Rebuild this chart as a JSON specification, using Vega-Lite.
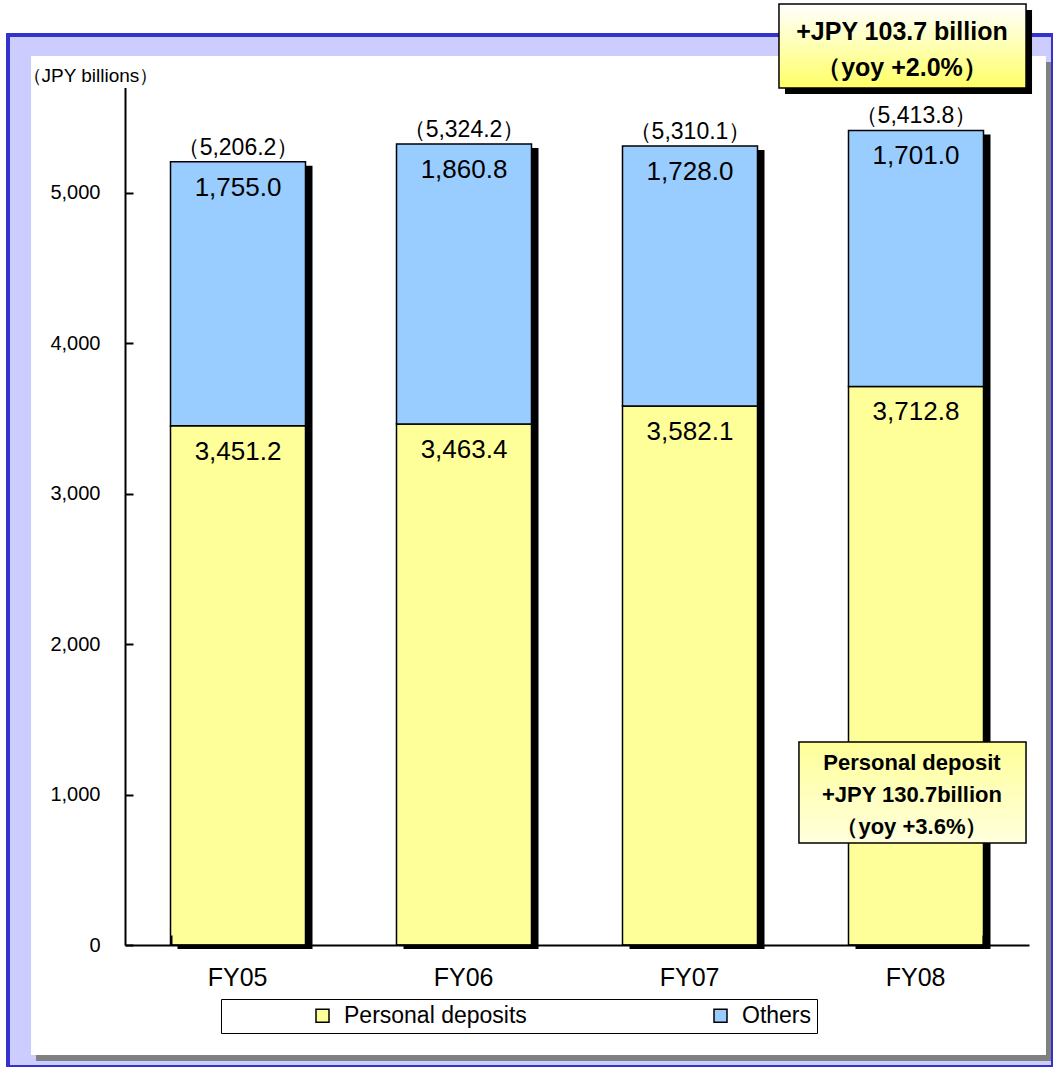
{
  "$schema": "https://vega.github.io/schema/vega-lite/v6.json",
  "autosize": {"type": "none"},
  "padding": {"left": 8, "top": 35, "right": 0, "bottom": 0},
  "width": 1045,
  "height": 1032,
  "background": "white",
  "config": {
    "font": "Liberation Sans",
    "view": {"fill": "#ccccff", "stroke": "#3333cc", "strokeWidth": 4}
  },
  "data": {
    "values": [
      {"year": "FY05", "category": "Personal deposits", "value": 3451.2},
      {"year": "FY05", "category": "Others", "value": 1755.0},
      {"year": "FY06", "category": "Personal deposits", "value": 3463.4},
      {"year": "FY06", "category": "Others", "value": 1860.8},
      {"year": "FY07", "category": "Personal deposits", "value": 3582.1},
      {"year": "FY07", "category": "Others", "value": 1728.0},
      {"year": "FY08", "category": "Personal deposits", "value": 3712.8},
      {"year": "FY08", "category": "Others", "value": 1701.0}
    ]
  },
  "layer": [
    {
      "data": {"values": [{}]},
      "mark": {"type": "rect", "fill": "#808080", "xOffset": 5, "x2Offset": 5, "yOffset": 6, "y2Offset": 6},
      "encoding": {
        "x": {"datum": "FY05", "bandPosition": -1.033},
        "x2": {"datum": "FY08", "bandPosition": 1.463},
        "y": {"datum": 5909},
        "y2": {"datum": -731}
      }
    },
    {
      "data": {"values": [{}]},
      "mark": {"type": "rect", "fill": "white"},
      "encoding": {
        "x": {"datum": "FY05", "bandPosition": -1.033},
        "x2": {"datum": "FY08", "bandPosition": 1.463},
        "y": {"datum": 5909},
        "y2": {"datum": -731}
      }
    },
    {
      "transform": [{"aggregate": [{"op": "sum", "field": "value", "as": "total"}], "groupby": ["year"]}],
      "mark": {"type": "bar", "color": "black", "xOffset": 7, "x2Offset": 7, "yOffset": 4, "y2Offset": 2},
      "encoding": {
        "x": {"field": "year", "type": "nominal"},
        "y": {"field": "total", "type": "quantitative"}
      }
    },
    {
      "mark": {"type": "bar", "stroke": "black", "strokeWidth": 1.5},
      "encoding": {
        "x": {
          "field": "year",
          "type": "nominal",
          "scale": {"range": [117, 1021], "paddingInner": 0.40265, "paddingOuter": 0.20133},
          "axis": {
            "orient": "top",
            "offset": -910,
            "title": null,
            "tickBand": "extent",
            "tickSize": 10,
            "tickWidth": 2,
            "tickColor": "black",
            "domainColor": "black",
            "domainWidth": 2,
            "labelAngle": 0,
            "labelFontSize": 25,
            "labelColor": "black",
            "labelBaseline": "top",
            "labelPadding": -30,
            "labelOffset": 29,
            "zindex": 3
          }
        },
        "y": {
          "field": "value",
          "type": "quantitative",
          "stack": "zero",
          "scale": {"domain": [0, 5700], "range": [910, 52.4], "nice": false},
          "axis": {
            "orient": "right",
            "offset": -928,
            "values": [0, 1000, 2000, 3000, 4000, 5000],
            "format": ",.0f",
            "grid": false,
            "tickSize": 8,
            "tickWidth": 2,
            "tickColor": "black",
            "domainColor": "black",
            "domainWidth": 2,
            "labelFontSize": 20,
            "labelColor": "black",
            "labelAlign": "right",
            "labelPadding": -33,
            "title": "（JPY billions）",
            "titleAngle": 0,
            "titleAlign": "left",
            "titleBaseline": "middle",
            "titleFontSize": 19,
            "titleFontWeight": "normal",
            "titleColor": "black",
            "titleX": -103,
            "titleY": 40,
            "zindex": 3
          }
        },
        "color": {
          "field": "category",
          "type": "nominal",
          "scale": {"domain": ["Personal deposits", "Others"], "range": ["#ffff99", "#99ccff"]},
          "legend": {
            "orient": "none",
            "legendX": 213,
            "legendY": 964,
            "direction": "horizontal",
            "columns": 2,
            "title": " ",
            "titleOrient": "left",
            "titlePadding": 85,
            "padding": 5,
            "strokeColor": "black",
            "fillColor": "white",
            "symbolType": "square",
            "symbolSize": 169,
            "symbolStrokeColor": "black",
            "symbolStrokeWidth": 1.5,
            "symbolOpacity": 1,
            "labelFontSize": 23,
            "labelColor": "black",
            "labelOffset": 10,
            "labelLimit": 400,
            "columnPadding": 182
          }
        },
        "order": {"field": "category", "sort": "descending"}
      }
    },
    {
      "mark": {"type": "text", "baseline": "middle", "dy": 26, "fontSize": 26, "color": "black"},
      "encoding": {
        "x": {"field": "year", "type": "nominal"},
        "y": {"field": "value", "type": "quantitative", "stack": "zero"},
        "detail": {"field": "category"},
        "order": {"field": "category", "sort": "descending"},
        "text": {"field": "value", "type": "quantitative", "format": ",.1f"}
      }
    },
    {
      "transform": [
        {"aggregate": [{"op": "sum", "field": "value", "as": "total"}], "groupby": ["year"]},
        {"calculate": "'（' + format(datum.total, ',.1f') + '）'", "as": "label"}
      ],
      "mark": {"type": "text", "baseline": "middle", "dy": -14, "fontSize": 23, "color": "black"},
      "encoding": {
        "x": {"field": "year", "type": "nominal"},
        "y": {"field": "total", "type": "quantitative"},
        "text": {"field": "label"}
      }
    },
    {
      "data": {"values": [{}]},
      "mark": {"type": "rect", "fill": "black", "xOffset": 6, "x2Offset": 6, "yOffset": 6, "y2Offset": 6},
      "encoding": {
        "x": {"datum": "FY08", "bandPosition": -0.515},
        "x2": {"datum": "FY08", "bandPosition": 1.315},
        "y": {"datum": 6254},
        "y2": {"datum": 5696}
      }
    },
    {
      "data": {"values": [{}]},
      "mark": {
        "type": "rect",
        "stroke": "black",
        "strokeWidth": 1.5,
        "fill": {"gradient": "linear", "x1": 0, "y1": 0, "x2": 0, "y2": 1, "stops": [{"offset": 0, "color": "#ffffff"}, {"offset": 1, "color": "#ffff66"}]}
      },
      "encoding": {
        "x": {"datum": "FY08", "bandPosition": -0.515},
        "x2": {"datum": "FY08", "bandPosition": 1.315},
        "y": {"datum": 6254},
        "y2": {"datum": 5696}
      }
    },
    {
      "data": {"values": [{}]},
      "mark": {"type": "text", "baseline": "middle", "align": "center", "fontSize": 25, "fontWeight": "bold", "lineHeight": 36, "color": "black"},
      "encoding": {
        "x": {"datum": "FY08", "bandPosition": 0.396},
        "y": {"datum": 6068},
        "text": {"value": ["+JPY 103.7 billion", "（yoy +2.0%）"]}
      }
    },
    {
      "data": {"values": [{}]},
      "mark": {
        "type": "rect",
        "stroke": "black",
        "strokeWidth": 1.5,
        "fill": {"gradient": "linear", "x1": 0, "y1": 0, "x2": 0, "y2": 1, "stops": [{"offset": 0, "color": "#ffff99"}, {"offset": 1, "color": "#ffffdd"}]}
      },
      "encoding": {
        "x": {"datum": "FY08", "bandPosition": -0.367},
        "x2": {"datum": "FY08", "bandPosition": 1.315},
        "y": {"datum": 1349},
        "y2": {"datum": 678}
      }
    },
    {
      "data": {"values": [{}]},
      "mark": {"type": "text", "baseline": "middle", "align": "center", "fontSize": 22, "fontWeight": "bold", "lineHeight": 32, "color": "black"},
      "encoding": {
        "x": {"datum": "FY08", "bandPosition": 0.47},
        "y": {"datum": 1210},
        "text": {"value": ["Personal deposit", "+JPY 130.7billion", "（yoy +3.6%）"]}
      }
    }
  ]
}
